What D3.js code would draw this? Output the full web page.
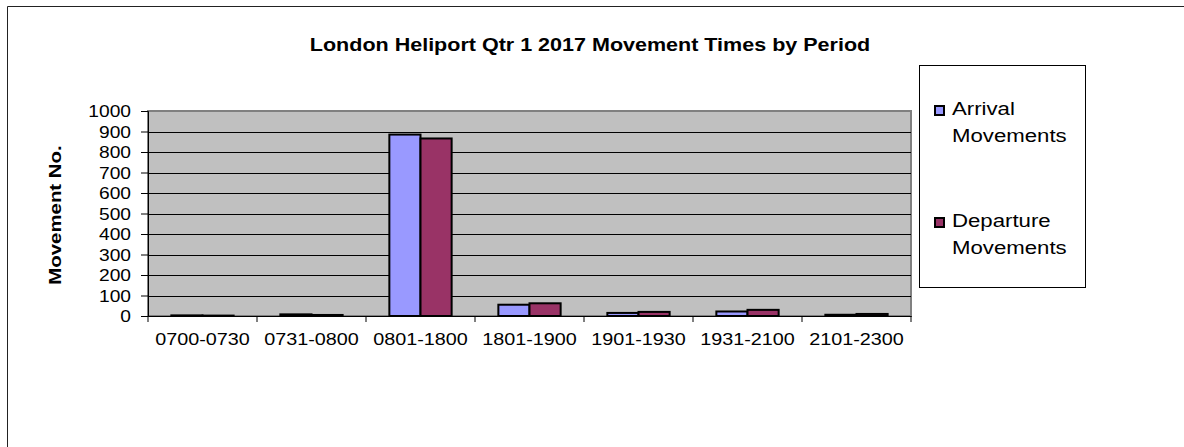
<!DOCTYPE html>
<html><head><meta charset="utf-8">
<script src="https://cdn.jsdelivr.net/npm/d3@7/dist/d3.min.js"></script>
<style>body{margin:0;background:#fff}svg{display:block}text{font-family:"Liberation Sans",Arial,sans-serif}</style>
</head><body><svg id="c" width="1184" height="447"></svg>
<script>
const categories = ["0700-0730","0731-0800","0801-1800","1801-1900","1901-1930","1931-2100","2101-2300"];
const arrivals = [3, 8, 885, 55, 15, 22, 6];
const departures = [2, 5, 866, 62, 20, 30, 10];
const seriesNames = ["Arrival Movements","Departure Movements"];
const colors = ["#9999ff","#993366"];
const yTicks = [0,100,200,300,400,500,600,700,800,900,1000];

const svg = d3.select("#c");
function label(x, y, txt, anchor, size, weight, rot, sx) {
  return svg.append("text")
    .attr("transform", `translate(${x},${y})` + (rot ? ` rotate(${rot})` : "") + ` scale(${sx || 1.2},1)`)
    .attr("text-anchor", anchor).attr("font-size", size).attr("font-weight", weight || "normal")
    .attr("fill", "#000").text(txt);
}

const L=148, R=911, T=111, B=316;
// outer frame (top & left)
svg.append("line").attr("x1",7.5).attr("x2",1184).attr("y1",6.5).attr("y2",6.5).attr("stroke","#222");
svg.append("line").attr("x1",7.5).attr("x2",7.5).attr("y1",6.5).attr("y2",447).attr("stroke","#222");

label(590, 51, "London Heliport Qtr 1 2017 Movement Times by Period", "middle", 17.5, "bold", 0, 1.23);

const x = d3.scaleBand().domain(categories).range([L,R]);
const y = d3.scaleLinear().domain([0,1000]).range([B,T]);
svg.append("rect").attr("x",L).attr("y",T).attr("width",R-L).attr("height",B-T).attr("fill","#c0c0c0")
  .attr("stroke","#808080").attr("stroke-width",2);
svg.append("g").selectAll("line").data(yTicks.filter(d=>d>0&&d<1000)).join("line")
  .attr("x1",L).attr("x2",R).attr("y1",d=>Math.round(y(d))+0.5).attr("y2",d=>Math.round(y(d))+0.5)
  .attr("stroke","#000").attr("stroke-width",1);

const bw = x.bandwidth()/3.5;
[arrivals, departures].forEach((vals,si)=>{
  svg.append("g").selectAll("rect").data(vals).join("rect")
    .attr("x",(d,i)=>x(categories[i]) + 0.75*bw + si*bw)
    .attr("y",d=>y(d)).attr("width",bw).attr("height",d=>B-y(d))
    .attr("fill",colors[si]).attr("stroke","#000").attr("stroke-width",2);
});

// axes
const ya = svg.append("g").attr("transform",`translate(${L},0)`)
  .call(d3.axisLeft(y).tickValues(yTicks).tickSize(7).tickFormat(""));
ya.select(".domain").attr("stroke","#000");
ya.selectAll(".tick line").attr("stroke","#000");
yTicks.forEach(v => label(131, y(v)+6, String(v), "end", 16));

const xa = svg.append("g").attr("transform",`translate(0,${B})`)
  .call(d3.axisBottom(x).tickSize(0).tickFormat(""));
xa.select(".domain").attr("stroke","#000");
svg.append("g").selectAll("line").data(d3.range(categories.length+1)).join("line")
  .attr("x1",i=>L+i*x.step()).attr("x2",i=>L+i*x.step()).attr("y1",B).attr("y2",B+6).attr("stroke","#000");
categories.forEach(c => label(x(c)+x.bandwidth()/2, 345, c, "middle", 16.5));

label(61, 215, "Movement No.", "middle", 17, "bold", -90);

// legend
svg.append("rect").attr("x",919.5).attr("y",65.5).attr("width",166).attr("height",222).attr("fill","#fff").attr("stroke","#000");
seriesNames.forEach((n,i)=>{
  const yy = 115 + i*112;
  svg.append("rect").attr("x",935).attr("y",yy-9).attr("width",9).attr("height",9).attr("fill",colors[i]).attr("stroke","#000").attr("stroke-width",2);
  const parts = n.split(" ");
  label(952, yy, parts[0], "start", 18.5);
  label(952, yy+26.5, parts[1], "start", 18.5);
});
</script></body></html>
